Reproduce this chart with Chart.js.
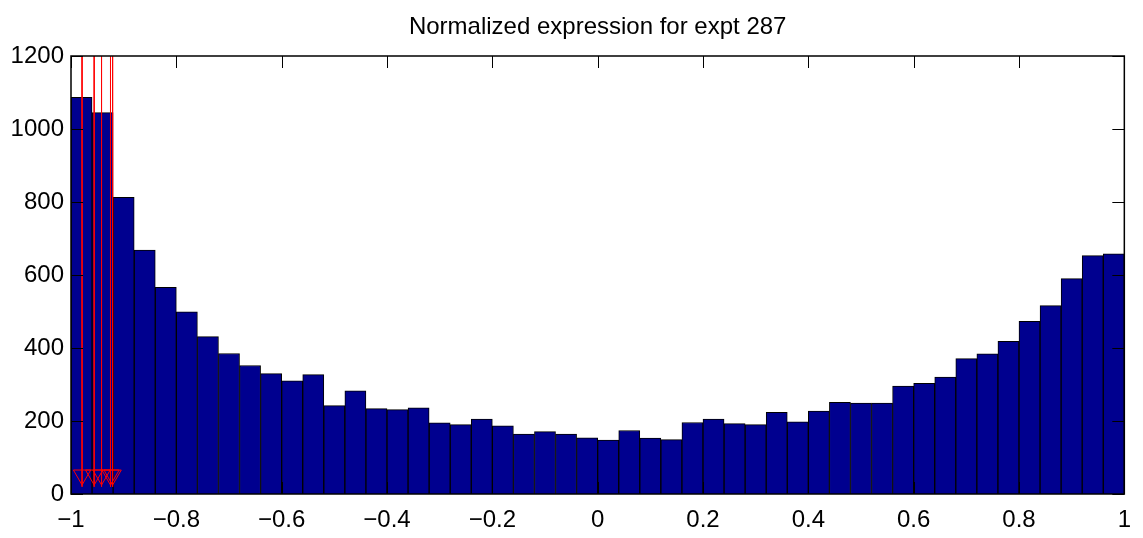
<!DOCTYPE html>
<html>
<head>
<meta charset="utf-8">
<script src="https://cdn.jsdelivr.net/npm/chart.js@4"></script>
<style>
  body { margin: 0; background: #fff; }
  #wrap { width: 1143px; height: 538px; }
</style>
</head>
<body>
<div id="wrap"><canvas id="grafico"></canvas></div>
<script>
// bin centres of the histogram (50 bins from -1 to 1)
const centros = [
  -0.98, -0.94, -0.90, -0.86, -0.82, -0.78, -0.74, -0.70, -0.66, -0.62,
  -0.58, -0.54, -0.50, -0.46, -0.42, -0.38, -0.34, -0.30, -0.26, -0.22,
  -0.18, -0.14, -0.10, -0.06, -0.02, 0.02, 0.06, 0.10, 0.14, 0.18,
  0.22, 0.26, 0.30, 0.34, 0.38, 0.42, 0.46, 0.50, 0.54, 0.58,
  0.62, 0.66, 0.70, 0.74, 0.78, 0.82, 0.86, 0.90, 0.94, 0.98
];
const contagens = [
  1087, 1045, 813, 668, 566, 499, 431, 385, 352, 330,
  310, 327, 242, 283, 234, 231, 236, 195, 190, 205,
  187, 164, 171, 164, 154, 148, 174, 153, 149, 196,
  205, 193, 190, 224, 198, 227, 251, 249, 249, 296,
  303, 320, 371, 384, 418, 473, 516, 590, 653, 658
];
// red marker lines near -1
const marcasX = [-0.979, -0.956, -0.942, -0.925, -0.921];
const marcaTopo = 1200;
const marcaFim = 20;
const marcaY = 52;

const fonte = "'Liberation Sans', Arial, Helvetica, sans-serif";

const linhas = marcasX.map((x) => ({
  type: 'line',
  data: [{ x: x, y: marcaTopo }, { x: x, y: marcaFim }],
  borderColor: '#ff0000',
  borderWidth: 1,
  pointRadius: 0,
  fill: false,
  order: 1
}));

const triangulos = {
  type: 'scatter',
  data: marcasX.map((x) => ({ x: x, y: marcaY })),
  pointStyle: 'triangle',
  rotation: 180,
  pointRadius: 10,
  borderColor: '#ff0000',
  backgroundColor: 'rgba(0,0,0,0)',
  borderWidth: 1,
  order: 0
};

const barras = {
  type: 'bar',
  data: centros.map((c, i) => ({ x: c, y: contagens[i] })),
  backgroundColor: '#00008f',
  borderColor: '#000000',
  borderWidth: 1,
  barPercentage: 1,
  categoryPercentage: 1,
  order: 3
};

// box with inward ticks, matlab style
const caixa = {
  id: 'caixa',
  afterDraw(chart) {
    const ctx = chart.ctx;
    const a = chart.chartArea;
    const sx = chart.scales.x;
    const sy = chart.scales.y;
    const t = 12;
    ctx.save();
    ctx.strokeStyle = '#000';
    ctx.lineWidth = 1;
    ctx.beginPath();
    sx.ticks.forEach((tk) => {
      const px = Math.round(sx.getPixelForValue(tk.value)) + 0.5;
      ctx.moveTo(px, a.bottom); ctx.lineTo(px, a.bottom - t);
      ctx.moveTo(px, a.top); ctx.lineTo(px, a.top + t);
    });
    sy.ticks.forEach((tk) => {
      const py = Math.round(sy.getPixelForValue(tk.value)) + 0.5;
      ctx.moveTo(a.left, py); ctx.lineTo(a.left + t, py);
      ctx.moveTo(a.right, py); ctx.lineTo(a.right - t, py);
    });
    ctx.stroke();
    ctx.lineWidth = 1.5;
    ctx.strokeRect(a.left, a.top, a.right - a.left, a.bottom - a.top);
    ctx.restore();
  }
};

const fmtX = (v) => String(Math.round(v * 10) / 10).replace('-', '\u2212');
const fmtY = (v) => String(v);

new Chart(document.getElementById('grafico'), {
  data: { datasets: [...linhas, triangulos, barras] },
  options: {
    responsive: true,
    maintainAspectRatio: false,
    animation: false,
    layout: { padding: { left: 0, right: 10, top: 0, bottom: 0 } },
    plugins: {
      legend: { display: false },
      tooltip: { enabled: false },
      title: {
        display: true,
        fullSize: false,
        text: 'Normalized expression for expt 287',
        color: '#000',
        font: { family: fonte, size: 24, weight: 'normal', lineHeight: 1 },
        padding: { top: 15, bottom: 17 }
      }
    },
    scales: {
      x: {
        type: 'linear',
        min: -1,
        max: 1,
        offset: false,
        grid: { display: false, drawTicks: false },
        border: { display: false },
        ticks: {
          stepSize: 0.2,
          color: '#000',
          padding: 12,
          maxRotation: 0,
          autoSkip: false,
          font: { family: fonte, size: 24 },
          callback: fmtX
        },
        afterFit(s) { s.height = 44; }
      },
      y: {
        min: 0,
        max: 1200,
        grid: { display: false, drawTicks: false },
        border: { display: false },
        ticks: {
          stepSize: 200,
          color: '#000',
          padding: 7,
          font: { family: fonte, size: 24 },
          callback: fmtY
        },
        afterFit(s) { s.width = 71; }
      }
    }
  },
  plugins: [caixa]
});
</script>
</body>
</html>
